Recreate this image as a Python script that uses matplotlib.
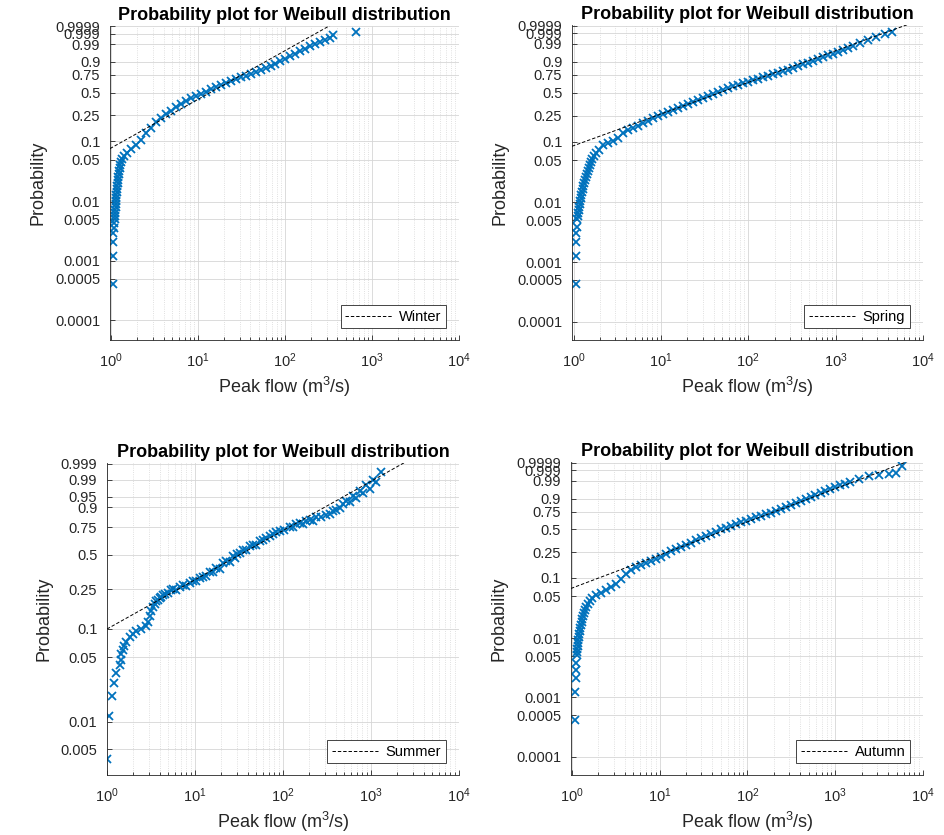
# Weibull probability plots of seasonal peak flows
import numpy as np
import matplotlib
matplotlib.use('Agg')
import matplotlib.pyplot as plt
from matplotlib.ticker import FixedLocator, FixedFormatter, LogLocator, NullLocator, NullFormatter

plt.rcParams['font.family'] = ['Liberation Sans', 'DejaVu Sans']
plt.rcParams['mathtext.fontset'] = 'custom'
plt.rcParams['mathtext.rm'] = 'Liberation Sans'
plt.rcParams['mathtext.it'] = 'Liberation Sans:italic'

# Peak flow (m3/s) and plotting probability
winter_flow = [1.04, 1.04, 1.04, 1.06, 1.07, 1.09,
               1.105, 1.111, 1.114, 1.120, 1.123, 1.129, 1.132, 1.138, 1.147, 1.156,
               1.165, 1.174, 1.184, 1.193, 1.206, 1.219, 1.235, 1.254, 1.278, 1.308,
               1.344, 1.409, 1.525,
               1.69, 1.93, 2.21, 2.52, 2.87, 3.28, 3.74, 4.26, 4.86, 5.55,
               6.33, 7.22, 8.24, 9.40, 10.7, 12.2, 14.0, 15.9, 18.2, 20.7,
               23.7, 27.0, 30.8, 35.2, 40.1, 45.8, 52.2, 59.6, 68.0, 77.5,
               88.4, 101, 115, 131, 150, 171, 195, 223, 254, 290,
               331, 358, 656]
winter_prob = [0.0004, 0.0012, 0.0021, 0.0029, 0.0036, 0.0044,
               0.00506, 0.00570, 0.00640, 0.00719, 0.00808, 0.00908, 0.0102, 0.0114, 0.0128, 0.0144,
               0.0161, 0.0181, 0.0203, 0.0228, 0.0256, 0.0287, 0.0322, 0.0361, 0.0405, 0.0454,
               0.0508, 0.0569, 0.0637,
               0.0741, 0.0876, 0.105, 0.134, 0.163, 0.197, 0.227, 0.259, 0.291, 0.325,
               0.363, 0.398, 0.428, 0.460, 0.486, 0.516, 0.545, 0.576, 0.604, 0.633,
               0.661, 0.689, 0.718, 0.741, 0.765, 0.788, 0.813, 0.839, 0.861, 0.885,
               0.905, 0.925, 0.943, 0.957, 0.971, 0.978, 0.9852, 0.9895, 0.9934, 0.9956,
               0.9972, 0.9984, 0.99935]

spring_flow = [1.054, 1.054, 1.054, 1.073, 1.092,
               1.108, 1.120, 1.132, 1.144, 1.156, 1.171, 1.190, 1.209, 1.228, 1.251,
               1.274, 1.298, 1.326, 1.354, 1.387, 1.423, 1.458, 1.497, 1.537, 1.586,
               1.646, 1.726, 1.820, 1.944,
               2.19, 2.50, 2.85, 3.25, 3.71, 4.23, 4.83, 5.51, 6.28, 7.17,
               8.18, 9.33, 10.6, 12.1, 13.9, 15.8, 18.0, 20.6, 23.5, 26.8,
               30.6, 34.9, 39.8, 45.4, 51.8, 59.1, 67.4, 76.9, 87.8, 100,
               114, 130, 149, 170, 194, 221, 252, 287, 328, 374,
               427, 487, 556, 634, 723, 825, 942, 1074, 1225, 1398,
               1595, 1919, 2369, 2926, 3709, 4425]
spring_prob = [0.00043, 0.00127, 0.00215, 0.00304, 0.00393,
               0.00529, 0.00595, 0.00668, 0.00750, 0.00843, 0.00946, 0.0106, 0.0119, 0.0133, 0.0149,
               0.0168, 0.0188, 0.0211, 0.0236, 0.0265, 0.0297, 0.0333, 0.0373, 0.0418, 0.0468,
               0.0525, 0.0587, 0.0657, 0.0735,
               0.0877, 0.0962, 0.1039, 0.1159, 0.1358, 0.1513, 0.1653, 0.1779, 0.1921, 0.2087,
               0.2273, 0.2463, 0.2644, 0.2831, 0.3030, 0.3228, 0.3439, 0.3657, 0.3883, 0.4123,
               0.4368, 0.4621, 0.4882, 0.5152, 0.5410, 0.5663, 0.5914, 0.6156, 0.6368, 0.6581,
               0.6795, 0.7004, 0.7212, 0.7418, 0.7617, 0.7814, 0.8003, 0.8186, 0.8386, 0.8583,
               0.8761, 0.8925, 0.9092, 0.9237, 0.9365, 0.9480, 0.9579, 0.9665, 0.9745, 0.9811,
               0.9862, 0.9915, 0.99550, 0.99751, 0.99881, 0.99938]

summer_flow = [1.00, 1.05, 1.13, 1.21, 1.28, 1.39, 1.43, 1.46, 1.52, 1.55,
               1.63, 1.81, 1.97, 2.15, 2.42, 2.80, 2.92, 3.05, 3.19, 3.33,
               3.48, 3.64, 3.80, 3.97, 4.15, 4.33, 4.53, 4.93, 5.39, 5.62,
               6.14, 6.70, 7.31, 7.97, 8.71, 9.49, 10.4, 11.3, 12.3, 13.4,
               14.7, 16.0, 17.5, 19.1, 20.8, 22.7, 24.8, 27.0, 28.2, 30.2,
               32.2, 35.1, 38.3, 41.8, 45.6, 49.8, 54.4, 59.3, 64.8, 70.5,
               77.0, 84.1, 91.6, 104, 119, 130, 142, 155, 169, 185,
               201, 219, 240, 273, 311, 339, 370, 404, 441, 481,
               525, 573, 624, 683, 743, 811, 885, 967, 1054, 1152,
               1310]
summer_prob = [0.0039, 0.0114, 0.0190, 0.0267, 0.0342, 0.0415, 0.0470, 0.0540, 0.0601, 0.0663,
               0.0737, 0.0820, 0.0888, 0.0947, 0.1002, 0.1076, 0.1184, 0.1348, 0.1517, 0.170,
               0.181, 0.191, 0.198, 0.206, 0.212, 0.221, 0.227, 0.233, 0.248, 0.253,
               0.248, 0.266, 0.273, 0.270, 0.288, 0.297, 0.297, 0.316, 0.327, 0.330,
               0.362, 0.358, 0.392, 0.383, 0.431, 0.448, 0.434, 0.486, 0.469, 0.504,
               0.514, 0.544, 0.545, 0.576, 0.590, 0.591, 0.623, 0.637, 0.651, 0.669,
               0.693, 0.711, 0.714, 0.730, 0.756, 0.753, 0.781, 0.790, 0.781, 0.802,
               0.814, 0.800, 0.834, 0.835, 0.852, 0.859, 0.876, 0.886, 0.898, 0.917,
               0.932, 0.930, 0.952, 0.947, 0.969, 0.962, 0.982, 0.975, 0.990, 0.987,
               0.9963]

autumn_flow = [1.09, 1.09, 1.11, 1.12, 1.12,
               1.137, 1.146, 1.155, 1.167, 1.179, 1.191, 1.207, 1.223, 1.239, 1.256,
               1.276, 1.296, 1.320, 1.347, 1.380, 1.416, 1.465, 1.532, 1.614, 1.723,
               1.889,
               2.15, 2.45, 2.80, 3.19, 3.63, 4.14, 4.72, 5.38, 6.13, 6.99,
               7.97, 9.08, 10.3, 11.8, 13.4, 15.3, 17.5, 19.9, 22.7, 25.9,
               29.5, 33.6, 38.3, 43.6, 49.7, 56.7, 64.6, 73.6, 83.9, 95.7,
               109, 124, 142, 161, 184, 210, 239, 272, 311, 354,
               403, 460, 524, 597, 681, 776, 884, 1008, 1149, 1309,
               1492, 1889, 2454, 3187, 4140, 4973, 5820]
autumn_prob = [0.00042, 0.00123, 0.00212, 0.00293, 0.0038,
               0.00525, 0.00591, 0.00664, 0.00746, 0.00838, 0.00942, 0.0105, 0.0118, 0.0133, 0.0149,
               0.0168, 0.0188, 0.0211, 0.0237, 0.0266, 0.0299, 0.0335, 0.0376, 0.0421, 0.0473,
               0.0530,
               0.0576, 0.0633, 0.0714, 0.0807, 0.0966, 0.1160, 0.1309, 0.1459, 0.1578, 0.1700,
               0.1825, 0.1937, 0.2083, 0.2334, 0.2583, 0.2760, 0.2946, 0.3142, 0.3381, 0.3634,
               0.3895, 0.4173, 0.4436, 0.4718, 0.5012, 0.5258, 0.5507, 0.5760, 0.6005, 0.6248,
               0.6490, 0.6718, 0.6933, 0.7141, 0.7350, 0.7621, 0.7881, 0.8131, 0.8369, 0.8591,
               0.8809, 0.8997, 0.9168, 0.9321, 0.9453, 0.9568, 0.9661, 0.9741, 0.9796, 0.9838,
               0.9874, 0.9923, 0.99576, 0.99680, 0.99763, 0.99804, 0.99968]

# Weibull reference line (shape k, scale lambda)
winter_fit = (0.822, 21.3)
spring_fit = (0.532, 92.8)
summer_fit = (0.542, 63.6)
autumn_fit = (0.560, 114.0)

TICKS_FULL = [0.0001, 0.0005, 0.001, 0.005, 0.01, 0.05, 0.1, 0.25, 0.5, 0.75, 0.9, 0.99, 0.999, 0.9999]
TICKS_SUMMER = [0.005, 0.01, 0.05, 0.1, 0.25, 0.5, 0.75, 0.9, 0.95, 0.99, 0.999]

BLUE = '#0072BD'
DARK = '#262626'


def wbl_fwd(p):
    p = np.clip(np.asarray(p, dtype=float), 1e-12, 1 - 1e-12)
    return np.log(-np.log1p(-p))


def wbl_inv(z):
    return -np.expm1(-np.exp(np.asarray(z, dtype=float)))


def prob_panel(fig, rect, flow, prob, fit, name, yticks, ylim, xlim):
    ax = fig.add_axes(rect)
    ax.set_xscale('log')
    ax.set_yscale('function', functions=(wbl_fwd, wbl_inv))

    k, lam = fit
    xs = np.logspace(np.log10(xlim[0]), np.log10(xlim[1]), 300)
    ax.plot(xs, 1 - np.exp(-(xs / lam) ** k), color='k', lw=0.7,
            ls=(0, (3.5, 2)), label=name, zorder=3)
    ax.plot(flow, prob, ls='none', marker='x', ms=6, mew=1.3,
            color=BLUE, zorder=2)

    ax.set_xlim(*xlim)
    ax.set_ylim(*ylim)
    ax.xaxis.set_major_locator(LogLocator(base=10, numticks=10))
    ax.xaxis.set_minor_locator(LogLocator(base=10, subs=np.arange(2, 10), numticks=50))
    ax.xaxis.set_minor_formatter(NullFormatter())
    ax.yaxis.set_major_locator(FixedLocator(yticks))
    ax.yaxis.set_major_formatter(FixedFormatter([f'{t:g}' for t in yticks]))
    ax.yaxis.set_minor_locator(NullLocator())

    ax.grid(True, which='major', color='#d6d6d6', lw=0.6, ls='-')
    ax.grid(True, which='minor', axis='x', color='#d6d6d6', lw=0.6, ls=':')
    ax.set_axisbelow(True)

    for s in ('top', 'right'):
        ax.spines[s].set_visible(False)
    for s in ('left', 'bottom'):
        ax.spines[s].set_color(DARK)
        ax.spines[s].set_linewidth(0.6)
    ax.tick_params(which='both', direction='in', colors=DARK, labelsize=10.5,
                   width=0.6)
    ax.tick_params(which='major', length=3.5)
    ax.tick_params(which='minor', length=2)
    ax.tick_params(axis='y', pad=7)
    ax.tick_params(axis='x', pad=8)

    ax.set_title('Probability plot for Weibull distribution', fontsize=13,
                 fontweight='bold', pad=4)
    ax.set_xlabel('Peak flow (m$^3$/s)', fontsize=13, color=DARK, labelpad=4)
    ax.set_ylabel('Probability', fontsize=13, color=DARK, labelpad=6)

    leg = ax.legend(loc='lower right', bbox_to_anchor=(0.962, 0.038),
                    borderaxespad=0, fontsize=10.5, handlelength=3.2,
                    handletextpad=0.5, fancybox=False, framealpha=1,
                    borderpad=0.3)
    leg.get_frame().set_edgecolor(DARK)
    leg.get_frame().set_linewidth(0.6)
    return ax


fig = plt.figure(figsize=(9.45, 8.35), dpi=100)

prob_panel(fig, [0.1164, 0.5928, 0.3693, 0.3761], winter_flow, winter_prob,
           winter_fit, 'Winter', TICKS_FULL, (4.6e-5, 0.99991), (0.97, 1e4))
prob_panel(fig, [0.6053, 0.5928, 0.3714, 0.3773], spring_flow, spring_prob,
           spring_fit, 'Spring', TICKS_FULL, (4.9e-5, 0.99993), (0.96, 1e4))
prob_panel(fig, [0.1132, 0.0719, 0.3725, 0.3736], summer_flow, summer_prob,
           summer_fit, 'Summer', TICKS_SUMMER, (0.0026, 0.99916), (1.0, 1e4))
prob_panel(fig, [0.6042, 0.0719, 0.3725, 0.3748], autumn_flow, autumn_prob,
           autumn_fit, 'Autumn', TICKS_FULL, (4.9e-5, 0.99993), (0.98, 1e4))

fig.savefig('out.png', dpi=100)
